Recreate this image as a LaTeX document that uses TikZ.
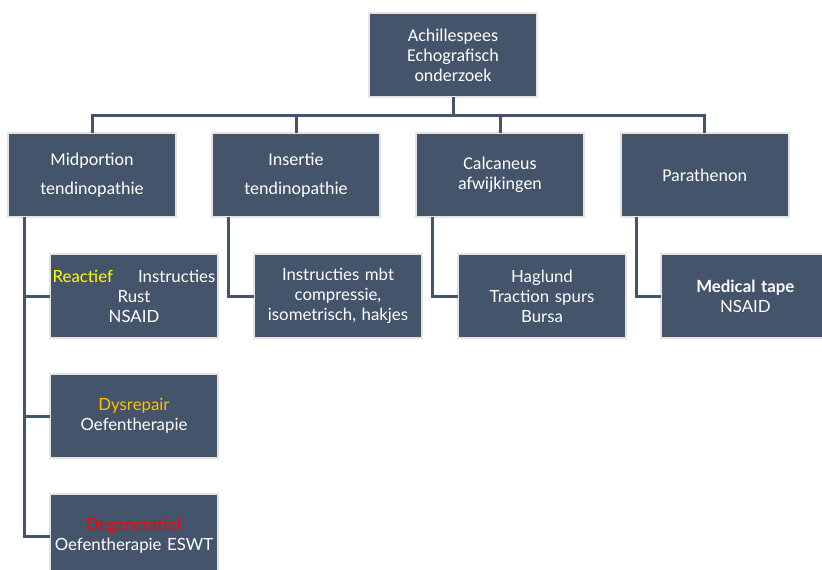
\documentclass[tikz,border=0pt]{standalone}
\usepackage{fontspec}
\setmainfont{Carlito}
\newfontfamily\gillfont{Lato}
\usetikzlibrary{positioning}

\definecolor{boxBlue}{HTML}{44546A}
\definecolor{boxEdge}{HTML}{E4E4E4}
\definecolor{reactYellow}{HTML}{FFFF00}
\definecolor{dysOrange}{HTML}{FFC000}
\definecolor{degRed}{HTML}{FF0000}

\begin{document}
\begin{tikzpicture}[x=0.75pt, y=-0.75pt,
        box/.style={rectangle, draw=boxEdge, line width=1.5pt, fill=boxBlue, text=white,
            minimum width=126pt, minimum height=63pt, text width=122pt, inner sep=2pt,
            outer sep=0pt, align=center, font=\fontsize{13.5}{15}\selectfont},
        subBox/.style={box, font=\gillfont\fontsize{12.6}{15}\selectfont},
        link/.style={draw=boxBlue, line width=2.25pt}]
        \useasboundingbox (0,0) rectangle (822,569);
        \clip (0,0) rectangle (822,569);

        \node[box] (rootNode) at (453, 55) {Achillespees\\Echografisch\\onderzoek};

        \node[box] (midNode) at (92, 175) {Midportion\\[7pt]tendinopathie};
        \node[box] (insNode) [right = 27pt of midNode] {Insertie\\[7pt]tendinopathie};
        \node[box] (calcNode) [right = 27pt of insNode] {Calcaneus\\afwijkingen};
        \node[box] (paraNode) [right = 27.5pt of calcNode] {Parathenon};

        \node[subBox] (reactNode) at (134, 296) {\textcolor{reactYellow}{Reactief}\hskip 0pt plus 1fill Instructies\\Rust\\NSAID};
        \node[subBox] (instrNode) [right = 27pt of reactNode] {Instructies mbt\\compressie,\\isometrisch, hakjes};
        \node[subBox] (haglNode) [right = 27pt of instrNode] {Haglund\\Traction spurs\\Bursa};
        \node[subBox] (tapeNode) [right = 26.5pt of haglNode] {\textbf{Medical tape}\\NSAID};
        \node[subBox] (dysNode) [below = 27pt of reactNode] {\textcolor{dysOrange}{Dysrepair}\\Oefentherapie};
        \node[subBox] (degNode) [below = 27pt of dysNode] {\textcolor{degRed}{Degeneratief}\\Oefentherapie ESWT};

        % tree lines
        \coordinate (busNode) at (453, 115);
        \draw[link] (rootNode) -- (busNode);
        \draw[link] (busNode) -| (midNode);
        \draw[link] (busNode) -| (insNode);
        \draw[link] (busNode) -| (calcNode);
        \draw[link] (busNode) -| (paraNode);

        \draw[link] ([xshift=12pt]midNode.south west) |- (reactNode.west);
        \draw[link] ([xshift=12pt]midNode.south west) |- (dysNode.west);
        \draw[link] ([xshift=12pt]midNode.south west) |- (degNode.west);
        \draw[link] ([xshift=12pt]insNode.south west) |- (instrNode.west);
        \draw[link] ([xshift=12pt]calcNode.south west) |- (haglNode.west);
        \draw[link] ([xshift=12pt]paraNode.south west) |- (tapeNode.west);
\end{tikzpicture}
\end{document}
